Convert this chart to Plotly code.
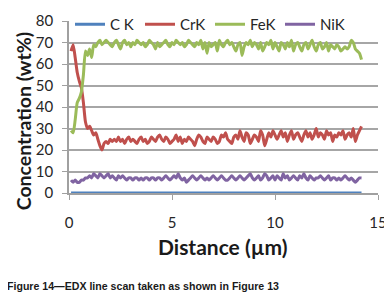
import plotly.graph_objects as go

distance = [round(0.1 * i, 1) for i in range(1, 143)]

crk = [66, 69, 63, 56, 52, 49, 42, 33, 30, 31,
       29, 27, 28, 25, 22, 20, 23, 24, 23, 25,
       24, 25, 24, 26, 24, 25, 23, 25, 26, 24,
       25, 24, 23, 25, 26, 24, 25, 23, 24, 26,
       25, 24, 26, 27, 25, 24, 26, 25, 23, 24,
       25, 27, 24, 26, 23, 25, 24, 26, 25, 24,
       22, 25, 27, 26, 24, 23, 26, 25, 24, 26,
       25, 23, 24, 27, 26, 28, 25, 24, 23, 26,
       27, 25, 29, 26, 24, 28, 27, 23, 25, 27,
       26, 24, 29, 27, 22, 25, 28, 26, 29, 27,
       25, 27, 29, 26, 28, 24, 27, 29, 25, 27,
       28, 26, 24, 27, 29, 26, 28, 25, 27, 30,
       26, 28, 27, 25, 29, 27, 28, 24, 27, 26,
       28, 27, 29, 25, 27, 28, 26, 30, 24, 27,
       29, 31]

fek = [29, 28, 34, 42, 44, 47, 55, 66, 64, 67,
       63, 69, 68, 70, 71, 69, 70, 71, 70, 69,
       68, 70, 71, 69, 67, 70, 71, 69, 70, 68,
       70, 69, 71, 70, 69, 70, 68, 69, 71, 70,
       69, 67, 70, 68, 69, 70, 71, 69, 68, 70,
       69, 71, 70, 69, 70, 68, 69, 71, 70, 69,
       68, 70, 69, 71, 67, 70, 65, 70, 68, 69,
       70, 66, 71, 69, 68, 70, 71, 69, 70, 68,
       66, 69, 70, 64, 68, 70, 69, 71, 68, 70,
       69, 67, 70, 66, 68, 70, 69, 71, 67, 70,
       68, 66, 70, 69, 67, 70, 68, 71, 66, 69,
       70, 68, 66, 69, 70, 67, 69, 71, 68, 66,
       69, 70, 67, 68, 70, 66, 69, 68, 67, 69,
       68, 66, 67, 68, 67, 68, 71, 70, 67, 66,
       65, 62]

nik = [6, 5, 6, 5, 5, 6, 6, 7, 7, 8,
       7, 9, 8, 7, 9, 8, 7, 8, 9, 7,
       8, 7, 6, 8, 7, 8, 7, 6, 7, 7,
       6, 7, 7, 6, 7, 6, 7, 7, 6, 7,
       7, 6, 7, 7, 6, 7, 8, 7, 6, 7,
       8, 7, 9, 7, 6, 7, 5, 6, 7, 8,
       7, 6, 7, 8, 7, 6, 7, 6, 7, 8,
       7, 6, 7, 8, 7, 6, 6, 7, 8, 7,
       6, 7, 8, 7, 6, 7, 8, 9, 7, 6,
       7, 8, 6, 7, 9, 8, 6, 7, 8, 6,
       8, 7, 6, 9, 7, 8, 6, 7, 8, 7,
       6, 8, 7, 9, 7, 6, 8, 7, 6, 7,
       7, 8, 7, 6, 7, 8, 6, 7, 7, 6,
       7, 6, 7, 8, 7, 6, 7, 6, 5, 6,
       7, 7]

ck = [0] * len(distance)

series = [("C K", ck, "#4F81BD"), ("CrK", crk, "#C0504D"),
          ("FeK", fek, "#9BBB59"), ("NiK", nik, "#8064A2")]

fig = go.Figure()
for name, vals, col in series:
    fig.add_trace(go.Scatter(x=distance, y=vals, name=name, mode="lines",
                             line=dict(color=col, width=3, shape="spline", smoothing=0.6)))

FONT = "Lato, Open Sans, sans-serif"
W, H = 384, 290  # page body has an 8px margin
fig.update_layout(
    width=W, height=H,
    margin=dict(l=61, r=14, t=13, b=105, autoexpand=False),
    paper_bgcolor="white", plot_bgcolor="white",
    font=dict(family=FONT, size=15, color="#262626"),
    showlegend=True,
    legend=dict(orientation="h", xref="container", yref="container",
                x=62 / W, xanchor="left", y=1.0, yanchor="top",
                font=dict(size=15, color="#262626"),
                entrywidth=25, entrywidthmode="pixels",
                bgcolor="rgba(0,0,0,0)", tracegroupgap=0),
    xaxis=dict(range=[0, 15], tickvals=[0, 5, 10, 15], showgrid=False, zeroline=False,
               showline=True, linecolor="#A0A0A0", linewidth=1.5,
               ticks="outside", ticklen=5, tickcolor="#A0A0A0",
               ticklabelstandoff=10, tickfont=dict(size=15)),
    yaxis=dict(range=[0, 80], dtick=10, showgrid=True, gridcolor="#A6A6A6", gridwidth=1.5,
               zeroline=False, showline=True, linecolor="#A0A0A0", linewidth=1.5,
               ticks="outside", ticklen=5, tickcolor="#A0A0A0",
               ticklabelstandoff=6, tickfont=dict(size=15)),
    annotations=[
        dict(text="<b>Concentration (wt%)</b>", xref="paper", yref="paper",
             x=(23 - 69) / 309, y=(192.5 - 121) / 171.5, xanchor="center", yanchor="middle",
             textangle=-90, showarrow=False, font=dict(size=19.5, color="#1a1a1a", family=FONT)),
        dict(text="<b>Distance (µm)</b>", xref="paper", yref="paper",
             x=(223 - 69) / 309, y=(192.5 - 246) / 171.5, xanchor="center", yanchor="middle",
             showarrow=False, font=dict(size=21, color="#1a1a1a", family=FONT)),
        dict(text="<b>Figure 14\u2014EDX line scan taken as shown in Figure 13</b>",
             xref="paper", yref="paper",
             x=(5 - 69) / 309, y=(192.5 - 285) / 171.5, xanchor="left", yanchor="middle",
             showarrow=False, font=dict(size=10.6, color="#1a1a1a", family="Liberation Sans, Arial")),
    ],
)

fig.write_html("out.html")
